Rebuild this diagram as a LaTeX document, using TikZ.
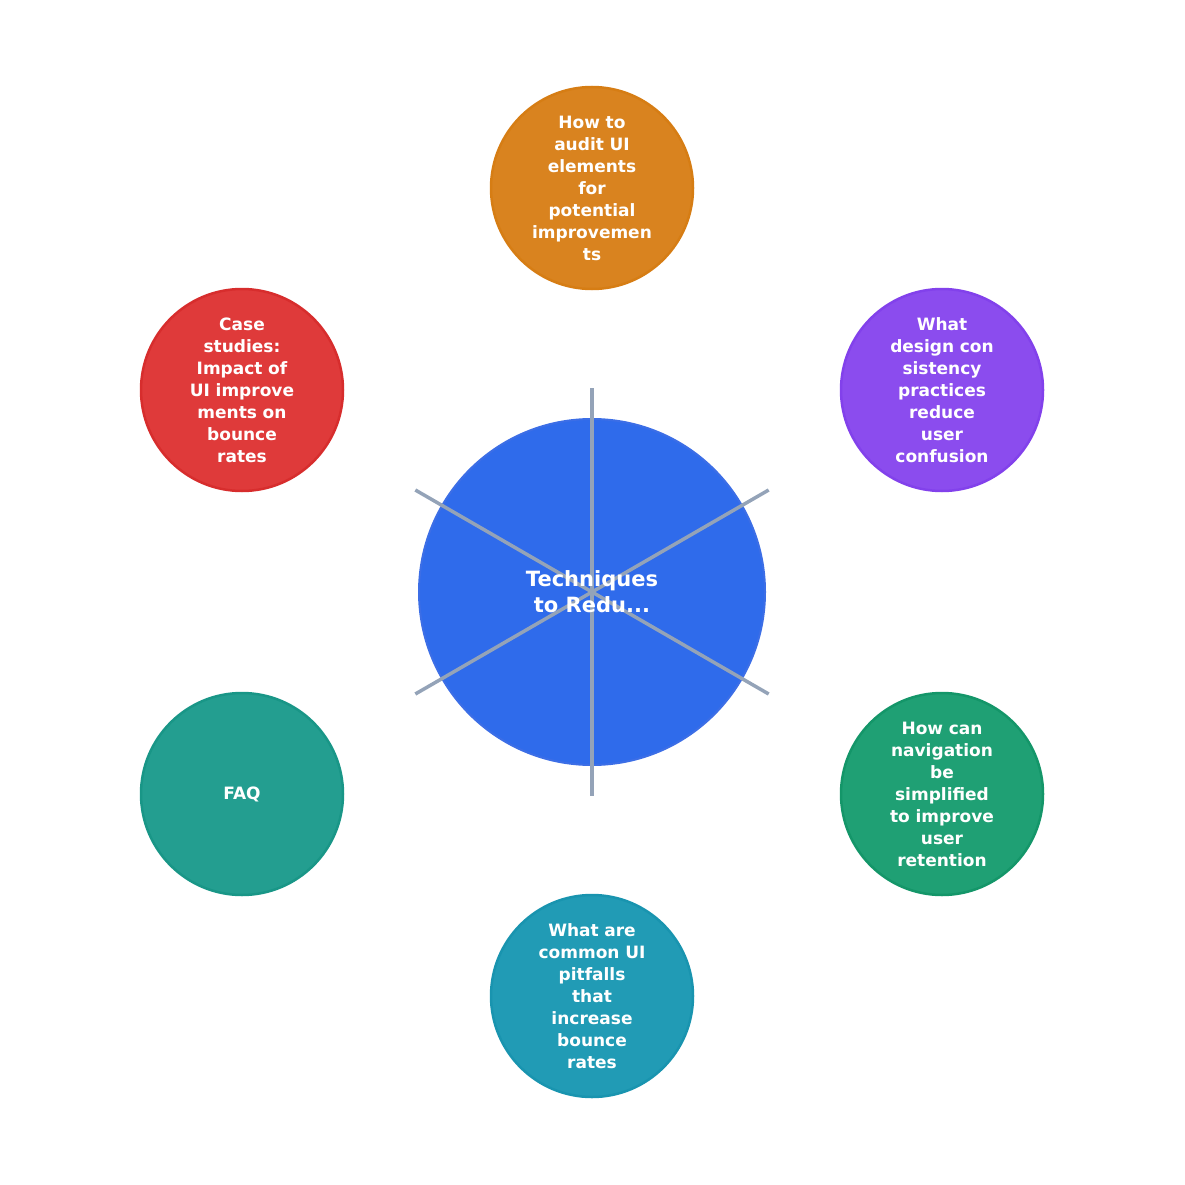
\documentclass[tikz,border=0pt]{standalone}
\usepackage{fontspec}
\setmainfont{DejaVu Sans}
\usetikzlibrary{calc}
\begin{document}
\begin{tikzpicture}[x=1pt,y=-1pt,
  leaf/.style={circle,minimum size=202pt,inner sep=0pt,line width=2.5pt,text=white,align=center,font=\bfseries\fontsize{17}{22}\selectfont,text width=120pt},
  spoke/.style={draw=spokec,line width=3.5pt}]
\definecolor{spokec}{HTML}{94A3B8}
\useasboundingbox (0,0) rectangle (1185,1185);
\node[circle,minimum size=346pt,inner sep=0pt,fill={rgb,255:red,47;green,107;blue,235},draw={rgb,255:red,60;green,110;blue,230},line width=2pt] (c) at (592,592) {};
\foreach \a/\n in {90/s1,30/s2,-30/s3,-90/s4,210/s5,150/s6}{
  \coordinate (\n) at ($(592,592)+(\a:-204)$);
}
\foreach \n in {s1,s2,s3,s4,s5,s6} \draw[spoke] (c.center) -- (\n);
\node[text=white,align=center,font=\bfseries\fontsize{21}{26}\selectfont] at (c) {Techniques\\to Redu...};
\node[leaf,fill={rgb,255:red,217;green,131;blue,31},draw={rgb,255:red,214;green,125;blue,20}] (n1) at (592,188) {How to\\audit UI\\elements\\for\\potential\\improvemen\\ts};
\node[leaf,fill={rgb,255:red,139;green,76;blue,238},draw={rgb,255:red,130;green,65;blue,235}] (n2) at (942,390) {What\\design con\\sistency\\practices\\reduce\\user\\confusion};
\node[leaf,fill={rgb,255:red,31;green,160;blue,116},draw={rgb,255:red,20;green,150;blue,105}] (n3) at (942,794) {How can\\navigation\\be\\simplified\\to improve\\user\\retention};
\node[leaf,fill={rgb,255:red,33;green,155;blue,181},draw={rgb,255:red,25;green,148;blue,175}] (n4) at (592,996) {What are\\common UI\\pitfalls\\that\\increase\\bounce\\rates};
\node[leaf,fill={rgb,255:red,35;green,158;blue,144},draw={rgb,255:red,25;green,150;blue,135}] (n5) at (242,794) {FAQ};
\node[leaf,fill={rgb,255:red,223;green,58;blue,58},draw={rgb,255:red,215;green,45;blue,45}] (n6) at (242,390) {Case\\studies:\\Impact of\\UI improve\\ments on\\bounce\\rates};
\end{tikzpicture}
\end{document}
